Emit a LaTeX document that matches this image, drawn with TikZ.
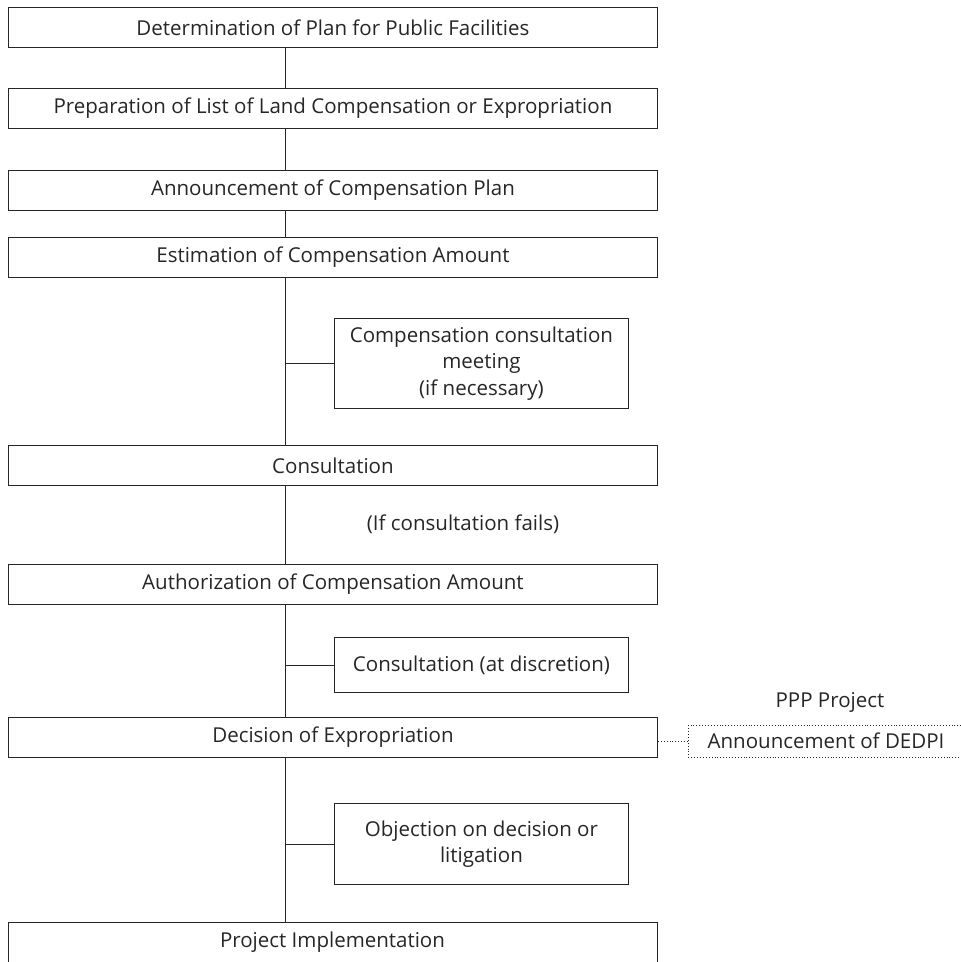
\documentclass[tikz,border=0pt]{standalone}
\usepackage{fontspec}
\setmainfont{Open Sans}
\begin{document}
\begin{tikzpicture}[x=1pt,y=-1pt,
  ink/.style={draw=black!85, line width=0.9pt},
  txt/.style={text=black!85, font=\fontsize{20.5}{26.5}\selectfont},
  mainbox/.style={ink, txt, minimum width=649pt, minimum height=40pt, inner sep=0pt, anchor=north west},
  sidebox/.style={ink, txt, minimum width=294pt, inner sep=0pt, anchor=north west, align=center},
  lbl/.style={txt},
  link/.style={ink},
  dotlink/.style={draw=black!85, line width=0.9pt, dotted}]
\useasboundingbox (0,0) rectangle (961,962);
\clip (0,0) rectangle (961,962);
\coordinate (sp) at (285,0);
% main sequence
\node[mainbox] (b1) at (8,7) {Determination of Plan for Public Facilities};
\node[mainbox] (b2) at (8,88) {Preparation of List of Land Compensation or Expropriation};
\node[mainbox] (b3) at (8,170) {Announcement of Compensation Plan};
\node[mainbox] (b4) at (8,237) {Estimation of Compensation Amount};
\node[mainbox] (b6) at (8,445) {Consultation};
\node[mainbox] (b7) at (8,564) {Authorization of Compensation Amount};
\node[mainbox] (b9) at (8,717) {Decision of Expropriation};
\node[mainbox, minimum height=60pt] (b12) at (8,922) {};
\node[lbl] (t12) at (332.5,942) {Project Implementation};
% side boxes
\node[sidebox, minimum height=90pt] (s5) at (334,318) {Compensation consultation\\meeting\\(if necessary)};
\node[sidebox, minimum height=55pt] (s8) at (334,637) {Consultation (at discretion)};
\node[sidebox, minimum height=81pt] (s11) at (334,803) {Objection on decision or\\litigation};
\node[draw=black!85, line width=0.9pt, dotted, minimum width=290pt, minimum height=32pt, inner sep=0pt, anchor=north west] (d10) at (688,725) {};
\node[lbl] (t10) at (826,741) {Announcement of DEDPI};
% labels
\node[lbl] (l6) at (463,524) {(If consultation fails)};
\node[lbl] (l10) at (830,702) {PPP Project};
% connectors
\draw[link] (b1.south -| sp) -- (b2.north -| sp);
\draw[link] (b2.south -| sp) -- (b3.north -| sp);
\draw[link] (b3.south -| sp) -- (b4.north -| sp);
\draw[link] (b4.south -| sp) -- (b6.north -| sp);
\draw[link] (b6.south -| sp) -- (b7.north -| sp);
\draw[link] (b7.south -| sp) -- (b9.north -| sp);
\draw[link] (b9.south -| sp) -- (b12.north -| sp);
\draw[link] (s5.west) -- (s5.west -| sp);
\draw[link] (s8.west) -- (s8.west -| sp);
\draw[link] (s11.west) -- (s11.west -| sp);
\draw[dotlink] (b9.east |- d10.west) -- (d10.west);
\end{tikzpicture}
\end{document}
